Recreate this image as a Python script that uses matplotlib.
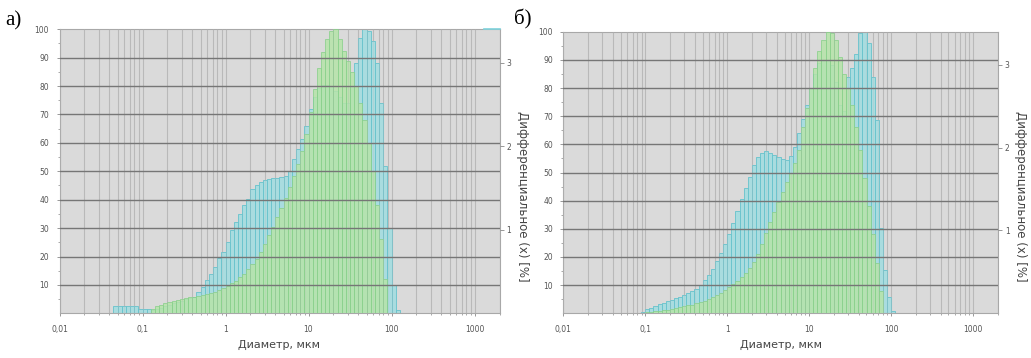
import numpy as np
import matplotlib
matplotlib.use('Agg')
import matplotlib.pyplot as plt
from matplotlib.ticker import FixedLocator, NullFormatter, FixedFormatter

# ---------------- data ----------------
BIN_STEP = 0.05          # width of one size class, decades
X_MIN, X_MAX = 0.01, 2000

x_tick_values = [0.01, 0.1, 1, 10, 100, 1000]
x_tick_labels = ['0,01', '0,1', '1', '10', '100', '1000']
left_tick_values = [10, 20, 30, 40, 50, 60, 70, 80, 90, 100]
right_tick_values = [1, 2, 3]
RIGHT_MAX = 3.40          # right axis value at the top of the plot

panel_labels = ['а)', 'б)']
x_label = 'Диаметр, мкм'
right_label = 'Дифференциальное (x) [%]'

# panel а
cyan_a_first = 13
cyan_a = [2.6, 2.6, 2.6, 2.6, 2.6, 2.6, 1.6, 1.6, 1.6,
          1.2, 1.5, 2.0, 2.5, 3.0, 3.5, 4.0, 4.5, 5.0, 5.4,
          5.8, 7.6, 9.4, 11.7, 14.0, 16.4, 19.3, 21.6, 25.1, 29.2,
          32.2, 35.1, 38.0, 40.4, 43.9, 45.0, 46.2, 46.8, 47.2, 47.5,
          47.8, 48.0, 48.5, 50.0, 54.4, 58.0, 61.5, 66.0, 72.0, 76.0,
          79.5, 80.4, 80.4, 80.0, 78.4, 76.0, 74.0, 74.0, 80.0, 88.0,
          97.0, 100.0, 99.5, 96.0, 88.0, 74.0, 52.0, 30.0, 10.0, 1.2]
green_a_first = 22
green_a = [1.5, 2.5, 3.0, 3.5, 4.0, 4.4, 4.7, 5.0, 5.3, 5.6,
           5.9, 6.2, 6.5, 6.8, 7.0, 7.5, 8.1, 8.8, 9.6, 10.5,
           11.5, 12.7, 14.0, 15.5, 17.2, 19.2, 21.5, 24.5, 27.5, 30.5,
           33.8, 37.2, 40.6, 44.3, 48.3, 52.6, 57.2, 63.0, 71.0, 79.0,
           86.5, 92.0, 96.5, 99.5, 100.0, 96.5, 92.5, 89.0, 85.0, 80.0,
           74.0, 68.0, 60.0, 50.0, 38.0, 26.0, 12.0]
cum_a_x = [1300, 2000]
cum_a_y = [100, 100]

# panel б
cyan_b_first = 19
cyan_b = [0.6, 1.4, 2.0, 2.6, 3.2, 3.8, 4.4, 4.8, 5.3, 5.9,
          6.5, 7.2, 7.8, 8.6, 10.2, 11.8, 13.6, 15.8, 18.5, 21.5,
          24.5, 28.0, 32.0, 36.5, 40.5, 44.5, 48.5, 52.5, 55.5, 57.0,
          57.5, 57.0, 56.3, 55.6, 54.7, 54.5, 56.0, 59.0, 64.0, 69.0,
          74.0, 80.0, 85.0, 89.0, 90.0, 90.0, 88.0, 82.0, 74.0, 72.0,
          84.0, 87.0, 92.0, 99.4, 100.0, 95.9, 84.0, 68.6, 30.2, 15.4,
          5.7, 0.8]
green_b_first = 20
green_b = [0.3, 0.5, 0.7, 0.9, 1.1, 1.3, 1.6, 1.9, 2.2, 2.5,
           2.8, 3.1, 3.5, 4.0, 4.5, 5.1, 5.8, 6.5, 7.3, 8.2,
           9.2, 10.3, 11.5, 12.9, 14.4, 16.2, 18.3, 21.0, 24.5, 28.5,
           32.5, 36.0, 39.5, 43.0, 46.5, 50.0, 53.5, 58.0, 66.0, 73.0,
           80.0, 87.0, 93.0, 97.0, 100.0, 99.5, 97.0, 91.0, 85.0, 80.0,
           74.0, 66.0, 58.0, 48.0, 38.0, 28.0, 18.0, 8.0]

# ---------------- style ----------------
BG = '#dadada'
CYAN_FACE, CYAN_EDGE = '#a9dcdf', '#66c2cc'
GREEN_FACE, GREEN_EDGE = '#b6e4a9', '#86cf88'
HGRID = '#767676'
VGRID = '#b9b9b9'
TXT = '#555555'


def class_edges(first, n):
    k = np.arange(first, first + n + 1)
    return 10.0 ** (np.log10(X_MIN) + BIN_STEP * k)


def draw_bars(ax, first, vals, face, edge, z, alpha=1.0):
    e = class_edges(first, len(vals))
    ax.bar(e[:-1], vals, width=np.diff(e), align='edge', color=face,
           edgecolor=edge, linewidth=0.6, zorder=z, alpha=alpha)


fig = plt.figure(figsize=(10.31, 3.58), dpi=100)

axes_rects = [
    [59.5 / 1031, (358 - 313.3) / 358, 440 / 1031, 284 / 358],
    [563.3 / 1031, (358 - 313.3) / 358, 434.5 / 1031, 281.6 / 358],
]
series = [
    (cyan_a_first, cyan_a, green_a_first, green_a),
    (cyan_b_first, cyan_b, green_b_first, green_b),
]
panel_label_pos = [(5 / 1031, 1 - 21 / 358), (514 / 1031, 1 - 19 / 358)]
right_label_x = [523 / 1031, 1021 / 1031]

for i, rect in enumerate(axes_rects):
    ax = fig.add_axes(rect)
    ax.set_facecolor(BG)
    ax.set_xscale('log')
    ax.set_xlim(X_MIN, X_MAX)
    ax.set_ylim(0, 100)

    cf, cv, gf, gv = series[i]
    draw_bars(ax, cf, cv, CYAN_FACE, CYAN_EDGE, 2)
    draw_bars(ax, gf, gv, GREEN_FACE, GREEN_EDGE, 3, alpha=0.85)
    if i == 0:
        ax.plot(cum_a_x, cum_a_y, color='#7fd3dc', lw=1.2, zorder=4,
                clip_on=False)

    # grids
    minor_pos = [m * 10.0 ** d for d in range(-2, 4) for m in range(1, 10)
                 if X_MIN <= m * 10.0 ** d <= X_MAX]
    for xv in minor_pos:
        ax.axvline(xv, color=VGRID, lw=0.8, zorder=1)
        ax.axvline(xv, color=VGRID, lw=0.5, zorder=4, alpha=0.35)
    for yv in left_tick_values[:-1]:
        ax.axhline(yv, color=HGRID, lw=1.0, zorder=5)

    ax.xaxis.set_major_locator(FixedLocator(x_tick_values))
    ax.xaxis.set_major_formatter(FixedFormatter(x_tick_labels))
    ax.xaxis.set_minor_locator(FixedLocator(minor_pos))
    ax.xaxis.set_minor_formatter(NullFormatter())
    ax.yaxis.set_major_locator(FixedLocator(left_tick_values))
    ax.yaxis.set_minor_locator(FixedLocator([v - 5 for v in left_tick_values]))

    ax.tick_params(axis='both', which='major', labelsize=5.5,
                   labelcolor=TXT, color='#888888', length=2.5, width=0.6)
    ax.tick_params(axis='both', which='minor', color='#888888',
                   length=1.5, width=0.5)
    ax.tick_params(axis='x', which='major', pad=6)
    ax.tick_params(axis='y', which='major', pad=5)

    for s in ax.spines.values():
        s.set_color('#a8a8a8')
        s.set_linewidth(0.8)

    ax2 = ax.twinx()
    ax2.set_ylim(0, RIGHT_MAX)
    ax2.yaxis.set_major_locator(FixedLocator(right_tick_values))
    ax2.tick_params(axis='y', labelsize=5.5, labelcolor=TXT,
                    color='#888888', length=3, width=0.6, pad=2)
    for s in ax2.spines.values():
        s.set_visible(False)

    ax.text(0.5, -0.113, x_label, transform=ax.transAxes, ha='center',
            va='center', fontsize=8, color='#444444')

    fig.text(right_label_x[i], 1 - 196 / 358, right_label, rotation=270,
             ha='center', va='center', fontsize=8.5, color='#444444')
    fig.text(panel_label_pos[i][0], panel_label_pos[i][1], panel_labels[i],
             family='Liberation Serif', fontsize=15, ha='left', va='center',
             color='black')

fig.savefig('out.png', dpi=100)
